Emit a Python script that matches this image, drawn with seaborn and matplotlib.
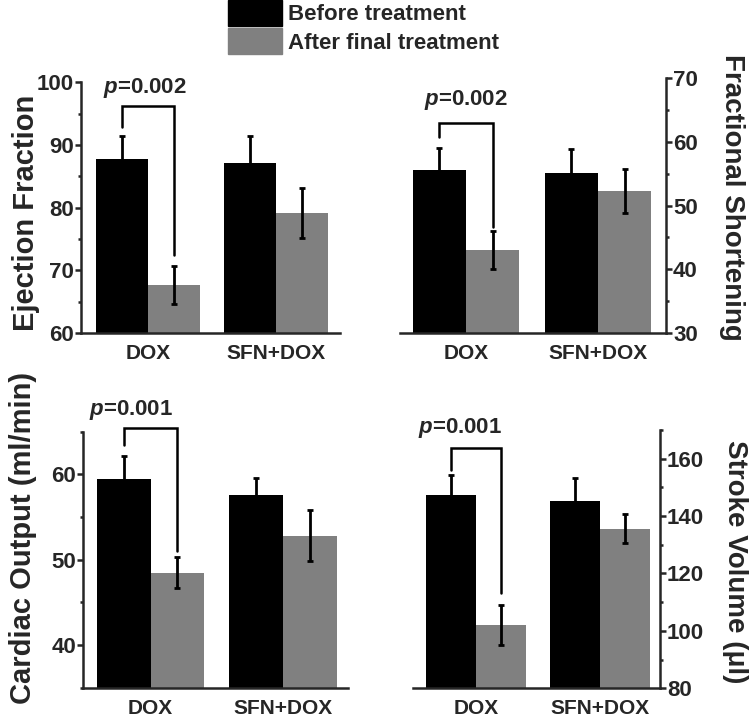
import pandas as pd
import numpy as np
import seaborn as sns
import matplotlib.pyplot as plt
from matplotlib.ticker import MultipleLocator

groups = ['DOX', 'SFN+DOX']
times = ['Before treatment', 'After final treatment']

ef_before = [87.8, 87.05]
ef_before_err = [3.6, 4.35]
ef_after = [67.7, 79.1]
ef_after_err = [3.0, 4.0]

fs_before = [55.6, 55.05]
fs_before_err = [3.4, 3.85]
fs_after = [43.0, 52.3]
fs_after_err = [2.95, 3.5]

co_before = [59.5, 57.6]
co_before_err = [2.6, 2.0]
co_after = [48.5, 52.8]
co_after_err = [1.85, 3.0]

sv_before = [147.2, 145.4]
sv_before_err = [7.2, 7.8]
sv_after = [101.9, 135.6]
sv_after_err = [7.0, 5.1]

p_labels = ['0.002', '0.002', '0.001', '0.001']

sns.set_style('ticks')
plt.rcParams['font.family'] = ['Liberation Sans', 'DejaVu Sans']
plt.rcParams['font.weight'] = 'bold'
plt.rcParams['mathtext.fontset'] = 'custom'
plt.rcParams['mathtext.it'] = 'Liberation Sans:bold:italic'
plt.rcParams['mathtext.rm'] = 'Liberation Sans:bold'

colors = ['black', '#808080']

fig = plt.figure(figsize=(7.5, 7.21), dpi=100)

panels = [
    dict(rect=[0.108, 0.538, 0.345, 0.348], b=ef_before, be=ef_before_err, a=ef_after, ae=ef_after_err,
         ylim=(60, 100), major=10, label='Ejection Fraction', side='left', xlim=(-0.523, 1.5),
         br=(96.2, 92.8, 72.5), ty=99.0, tx=-0.02, lc=(-0.158, 0.48)),
    dict(rect=[0.5333, 0.5381, 0.3547, 0.3537], b=fs_before, be=fs_before_err, a=fs_after, ae=fs_after_err,
         ylim=(30, 70), major=10, label='Fractional Shortening', side='right', xlim=(-0.5, 1.515),
         br=(62.9, 60.75, 46.6), ty=66.5, tx=0.0, lc=(1.2, 0.53)),
    dict(rect=[0.1107, 0.0462, 0.3533, 0.355], b=co_before, be=co_before_err, a=co_after, ae=co_after_err,
         ylim=(35, 65), major=10, label='Cardiac Output (ml/min)', side='left', xlim=(-0.51, 1.49),
         br=(65.4, 63.5, 51.0), ty=67.6, tx=-0.145, lc=(-0.174, 0.585)),
    dict(rect=[0.5507, 0.0454, 0.3293, 0.3583], b=sv_before, be=sv_before_err, a=sv_after, ae=sv_after_err,
         ylim=(80, 170), major=20, label='Stroke Volume (\u03bcl)', side='right', xlim=(-0.508, 1.484),
         br=(163.8, 156.2, 113.2), ty=170.8, tx=-0.125, lc=(1.25, 0.49)),
]

for i, p in enumerate(panels):
    ax = fig.add_axes(p['rect'])
    df = pd.DataFrame({
        'group': groups * 2,
        'time': [times[0]] * 2 + [times[1]] * 2,
        'value': p['b'] + p['a'],
    })
    sns.barplot(data=df, x='group', y='value', hue='time', palette=colors, width=0.81,
                errorbar=None, legend=False, saturation=1, ax=ax, linewidth=0)

    # error bars on bar centres, bars sorted left to right
    bars = sorted(ax.patches, key=lambda r: r.get_x())
    xs = [r.get_x() + r.get_width() / 2 for r in bars]
    means = [p['b'][0], p['a'][0], p['b'][1], p['a'][1]]
    errs = [p['be'][0], p['ae'][0], p['be'][1], p['ae'][1]]
    ax.errorbar(xs, means, yerr=errs, fmt='none', ecolor='black', elinewidth=2,
                capsize=2.5, capthick=2, zorder=3)

    # significance bracket between DOX bars
    top, yl, yr = p['br']
    ax.plot([xs[0], xs[0], xs[1], xs[1]], [yl, top, top, yr], color='black', lw=1.8,
            clip_on=False, solid_joinstyle='miter')
    ax.text(p['tx'], p['ty'], r'$p$=' + p_labels[i], ha='center', va='center',
            fontsize=16, fontweight='bold', clip_on=False)

    ax.set_ylim(*p['ylim'])
    ax.set_xlim(*p['xlim'])
    ax.yaxis.set_major_locator(MultipleLocator(p['major']))
    ax.yaxis.set_minor_locator(MultipleLocator(p['major'] / 2))
    ax.set_xlabel('')
    ax.tick_params(axis='x', length=0, labelsize=15, pad=8)
    ax.tick_params(axis='y', which='major', length=4, width=1.8, labelsize=16, pad=1)
    ax.tick_params(axis='y', which='minor', length=2, width=1.8)
    for lab in ax.get_xticklabels() + ax.get_yticklabels():
        lab.set_fontweight('bold')

    ax.spines['top'].set_visible(False)
    if p['side'] == 'left':
        ax.spines['right'].set_visible(False)
        ax.set_ylabel(p['label'], fontsize=21, fontweight='bold')
    else:
        ax.spines['left'].set_visible(False)
        ax.yaxis.tick_right()
        ax.yaxis.set_label_position('right')
        ax.set_ylabel(p['label'], fontsize=20, fontweight='bold', rotation=270, va='bottom')
    ax.yaxis.set_label_coords(*p['lc'])
    for s in ax.spines.values():
        s.set_linewidth(1.8)

handles = [plt.Rectangle((0, 0), 1, 1, color=c) for c in colors]
fig.legend(handles, times, loc='upper left', bbox_to_anchor=(228 / 750, 1.0), frameon=False,
           prop={'weight': 'bold', 'size': 16}, handlelength=2.45, handleheight=1.4,
           labelspacing=0.12, handletextpad=0.25, borderpad=0, borderaxespad=0)

fig.savefig('out.png', dpi=100)
